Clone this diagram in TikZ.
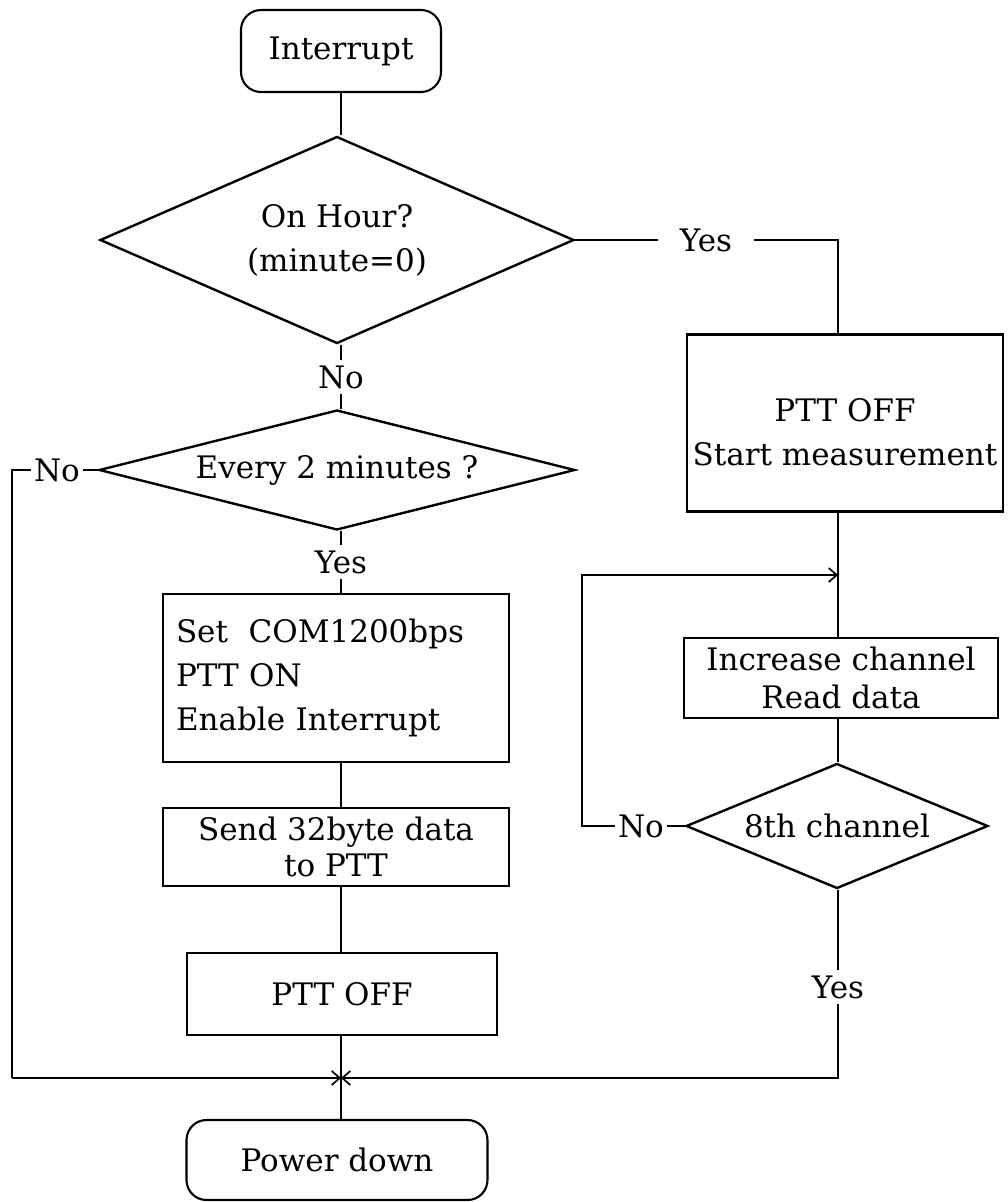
\documentclass[tikz,border=0pt]{standalone}
\usepackage{fontspec}
\setmainfont{DejaVu Serif}
\usetikzlibrary{shapes.geometric,arrows.meta}
\begin{document}
\begin{tikzpicture}[x=1pt,y=-1pt,
 every node/.style={font=\fontsize{31}{44}\selectfont},
 line/.style={line width=1.7pt},
 box/.style={draw,line width=2.1pt,rectangle,inner sep=0pt},
 term/.style={box,rounded corners=20pt},
 dec/.style={draw,line width=2.4pt,diamond,inner sep=0pt},
 lbl/.style={inner sep=5pt},
 arr/.style={-{Straight Barb[length=8pt,width=14pt,line width=1.7pt]}}]
\useasboundingbox (0,0) rectangle (1008,1202);
\coordinate (col) at (341,0);
% main column
\node[term, minimum width=200, minimum height=82] (int) at (341,51) {Interrupt};
\node[dec, minimum width=474, minimum height=207, align=center, aspect=2.3] (d1) at (337,240) {On Hour?\\(minute=0)};
\node[lbl] (no1) at (341,377) {No};
\node[dec, minimum width=476, minimum height=120, aspect=4.2] (d2) at (337,470) {Every 2 minutes ?};
\node[lbl] (yes2) at (341,562) {Yes};
\node[box, minimum width=346, minimum height=168, text width=320, align=left] (b3) at (336,678) {Set\ \ COM1200bps\\PTT ON\\Enable Interrupt};
\node[box, minimum width=346, minimum height=78, align=center, font=\fontsize{31}{36}\selectfont] (b4) at (336,847) {Send 32byte data\\to PTT};
\node[box, minimum width=310, minimum height=82] (b5) at (342,994) {PTT OFF};
\node[term, minimum width=301, minimum height=80] (pd) at (337,1160) {Power down};
% right column
\node[lbl, inner xsep=22pt] (yes1) at (706,240) {Yes};
\node[box, minimum width=316, minimum height=177] (b6) at (845,423) {\raisebox{-12pt}[\height][\depth]{\begin{tabular}{@{}c@{}}PTT OFF\\Start measurement\end{tabular}}};
\node[box, minimum width=314, minimum height=80, align=center, font=\fontsize{31}{38}\selectfont] (b7) at (841,678) {Increase channel\\Read data};
\node[dec, minimum width=302, minimum height=125, aspect=2.4] (d3) at (837,826) {8th channel};
\node[lbl, inner sep=3pt] (no3) at (641,826) {No};
\node[lbl] (yes3) at (838,987) {Yes};
\node[lbl, inner sep=3pt] (no2) at (57,470) {No};
% coordinates
\coordinate (j) at (341,1078);
\coordinate (lp) at (838,575);
\coordinate (lpl) at (582,575);
\coordinate (lc) at (12,1078);
% connectors
\draw[line] (int.south -| col) -- (d1.north -| col);
\draw[line] (d1.south -| col) -- (no1);
\draw[line] (no1) -- (d2.north -| col);
\draw[line] (d2.south -| col) -- (yes2);
\draw[line] (yes2) -- (b3.north -| col);
\draw[line] (b3.south -| col) -- (b4.north -| col);
\draw[line] (b4.south -| col) -- (b5.north -| col);
\draw[line] (b5.south -| col) -- (j) -- (pd.north -| j);
\draw[line] (d1.east) -- (yes1);
\draw[line] (yes1) -| (b6.north -| lp);
\draw[line] (d2.west) -- (no2);
\draw[line] (no2) -| (lc);
\draw[line,arr] (lc) -- (j);
\draw[line] (b6.south -| lp) -- (lp) -- (b7.north -| lp);
\draw[line] (b7.south -| lp) -- (d3.north -| lp);
\draw[line] (d3.west) -- (no3);
\draw[line,arr] (no3) -| (lpl) -- (lp);
\draw[line] (d3.south -| lp) -- (yes3);
\draw[line,arr] (yes3) |- (j);
\end{tikzpicture}
\end{document}
